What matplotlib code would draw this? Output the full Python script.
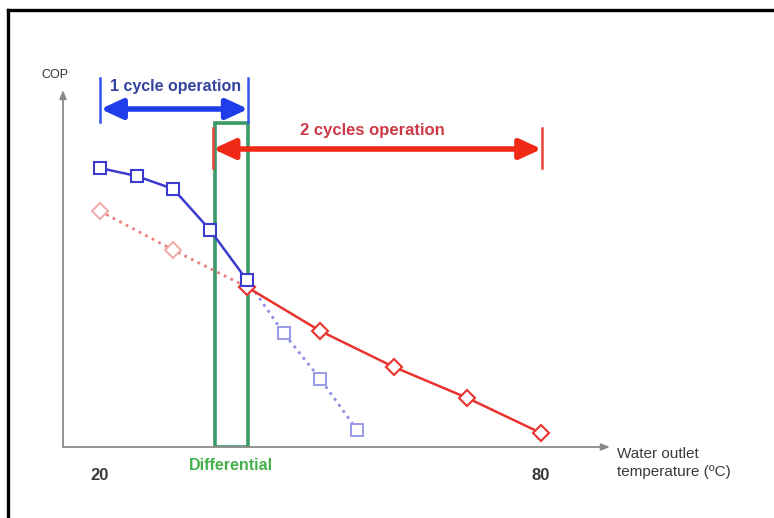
import matplotlib
matplotlib.use("Agg")
import matplotlib.pyplot as plt
from matplotlib.lines import Line2D
from matplotlib.patches import Rectangle

plt.rcParams['font.family'] = ['Liberation Sans', 'DejaVu Sans']

# data (COP in arbitrary units)
t_one = [20, 25, 30, 35, 40]
cop_one = [5.58, 5.42, 5.16, 4.34, 3.34]
t_one_ext = [40, 45, 50, 55]
cop_one_ext = [3.34, 2.28, 1.36, 0.34]
t_two = [40, 50, 60, 70, 80]
cop_two = [3.2, 2.32, 1.6, 0.98, 0.28]
t_two_ext = [20, 30, 40]
cop_two_ext = [4.72, 3.94, 3.2]
xtick_vals = [20, 80]
diff_range = [35.65, 40.1]

W, H = 774, 518
fig = plt.figure(figsize=(W / 100, H / 100), dpi=100)
ax = fig.add_axes([63 / W, (H - 447) / H, (610 - 63) / W, 400 / H])
ax.set_xlim(15, 89.4)
ax.set_ylim(0, 8)
ax.axis('off')

# frame on left and top
fig.add_artist(Line2D([8 / W, 8 / W], [0, 1 - 10 / H], color='black', lw=2.4))
fig.add_artist(Line2D([8 / W, 1], [1 - 10 / H, 1 - 10 / H], color='black', lw=2.4))

# axes with arrows
ax.annotate('', xy=(89.4, 0), xytext=(15, 0), annotation_clip=False,
            arrowprops=dict(arrowstyle='-|>,head_length=0.5,head_width=0.2', color='#8a8a8a',
                            lw=1.3, shrinkA=0, shrinkB=0))
ax.annotate('', xy=(15, 7.14), xytext=(15, 0), annotation_clip=False,
            arrowprops=dict(arrowstyle='-|>,head_length=0.5,head_width=0.2', color='#8a8a8a',
                            lw=1.3, shrinkA=0, shrinkB=0))
ax.text(13.9, 7.44, 'COP', ha='center', va='center', fontsize=9, color='#333333')
ax.text(90.3, -0.32, 'Water outlet\ntemperature (ºC)', ha='left', va='center',
        fontsize=11, color='#3a3a3a', linespacing=1.45)
for v in xtick_vals:
    ax.text(v, -0.58, str(v), ha='center', va='center', fontsize=12,
            fontweight='bold', color='#3a3a3a')

# differential zone
ax.add_patch(Rectangle((diff_range[0], 0), diff_range[1] - diff_range[0], 6.48,
                       fill=False, edgecolor='#3a9a68', lw=2.6, zorder=2))
ax.text(sum(diff_range) / 2, -0.36, 'Differential', ha='center', va='center',
        fontsize=11.5, fontweight='bold', color='#45b04a')

# extrapolated (dotted) parts
ax.plot(t_one_ext, cop_one_ext, ':', color='#8c8ce0', lw=2, marker='s', ms=8,
        mfc='white', mec='#9a9ae6', mew=1.4, zorder=3)
ax.plot(t_two_ext, cop_two_ext, ':', color='#e88080', lw=2, marker='D', ms=8,
        mfc='white', mec='#f2aaaa', mew=1.4, zorder=3)
# main curves
ax.plot(t_two, cop_two, '-', color='#e8332e', lw=1.8, marker='D', ms=8.5,
        mfc='white', mec='#e8332e', mew=1.5, zorder=4)
ax.plot(t_one, cop_one, '-', color='#3b3bd0', lw=1.8, marker='s', ms=8.5,
        mfc='white', mec='#3b3bd0', mew=1.5, zorder=5)

# 1 cycle operation range
ax.annotate('', xy=(40.2, 6.76), xytext=(20.1, 6.76), annotation_clip=False,
            arrowprops=dict(arrowstyle='<|-|>,head_length=1.3,head_width=0.6',
                            color='#1f3de8', lw=4, shrinkA=0, shrinkB=0))
for xb in [20.1, 40.2]:
    ax.plot([xb, xb], [6.5, 7.38], color='#3355ee', lw=1.8, clip_on=False)
ax.text(30.3, 7.2, '1 cycle operation', ha='center', va='center', fontsize=11.5,
        fontweight='bold', color='#34449e')

# 2 cycles operation range
ax.annotate('', xy=(80.1, 5.96), xytext=(35.4, 5.96), annotation_clip=False,
            arrowprops=dict(arrowstyle='<|-|>,head_length=1.3,head_width=0.6',
                            color='#f02a16', lw=4, shrinkA=0, shrinkB=0))
for xb in [35.4, 80.1]:
    ax.plot([xb, xb], [5.58, 6.38], color='#e8453a', lw=1.8, clip_on=False)
ax.text(57.1, 6.32, '2 cycles operation', ha='center', va='center', fontsize=12,
        fontweight='bold', color='#cc3a48')

fig.savefig('out.png', dpi=100)
